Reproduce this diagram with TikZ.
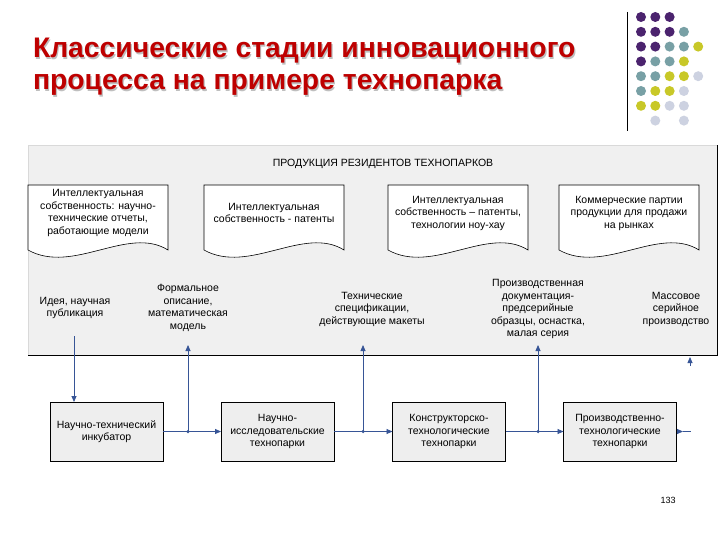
\documentclass[tikz,border=0pt]{standalone}
\usepackage{fontspec}
\setmainfont{Liberation Sans}
\usetikzlibrary{arrows.meta}
\definecolor{titlered}{RGB}{190,0,0}
\definecolor{dotP}{RGB}{75,35,110}
\definecolor{dotT}{RGB}{120,160,165}
\definecolor{dotY}{RGB}{200,200,40}
\definecolor{dotL}{RGB}{205,210,225}
\definecolor{panelgray}{RGB}{240,240,240}
\definecolor{boxgray}{RGB}{238,238,238}
\definecolor{linkblue}{RGB}{55,85,150}
\begin{document}
\begin{tikzpicture}[x=1pt,y=-1pt,
  every node/.style={inner sep=0pt,outer sep=0pt},
  small/.style={font=\fontsize{10.5}{12.5}\selectfont, align=center},
  titletext/.style={anchor=base west, font=\fontsize{28.3}{32}\selectfont\bfseries, text=titlered},
  stagebox/.style={draw=black, fill=boxgray, minimum width=113pt, minimum height=59pt, small, line width=0.8pt},
  link/.style={draw=linkblue, line width=0.8pt},
  tip/.style={-{Triangle[length=6pt,width=5pt]}},
  jdot/.style={fill=linkblue, circle, minimum size=3.5pt},
  dot/.style={circle, minimum size=10pt}
]
\path[use as bounding box] (0,0) rectangle (720,540);
\fill[white] (0,0) rectangle (720,540);

% title
\node[titletext, text=black!25] at (34.2,59.2) {Классические стадии инновационного};
\node[titletext, text=black!25] at (34.2,91.2) {процесса на примере технопарка};
\node[titletext] (title1) at (33,58) {Классические стадии инновационного};
\node[titletext] (title2) at (33,90) {процесса на примере технопарка};

% decoration
\draw[black, line width=1pt] (627,12) -- (627,131);
\foreach \c/\r/\col in {0/0/dotP,1/0/dotP,2/0/dotP,
  0/1/dotP,1/1/dotP,2/1/dotP,3/1/dotT,
  0/2/dotP,1/2/dotP,2/2/dotT,3/2/dotT,4/2/dotY,
  0/3/dotP,1/3/dotT,2/3/dotT,3/3/dotY,
  0/4/dotT,1/4/dotT,2/4/dotY,3/4/dotY,4/4/dotL,
  0/5/dotT,1/5/dotY,2/5/dotY,3/5/dotL,
  0/6/dotY,1/6/dotY,2/6/dotL,3/6/dotL,
  1/7/dotL,3/7/dotL}
  \node[dot, fill=\col] (d\c\r) at (641+14.3*\c, 17+14.8*\r) {};

% panel
\fill[panelgray] (28,145) rectangle (717,355);
\draw[black!15] (28,355) -- (28,145) -- (717,145);
\draw[black, line width=0.8pt] (28,355) -- (717,355) -- (717,145);
\node[small] (hdr) at (383,164) {ПРОДУКЦИЯ РЕЗИДЕНТОВ ТЕХНОПАРКОВ};

% documents
\foreach \xa/\nm/\txt in {
  28/doc1/{Интеллектуальная\\собственность: научно-\\технические отчеты,\\работающие модели},
  204/doc2/{Интеллектуальная\\собственность - патенты},
  388/doc3/{Интеллектуальная\\собственность -- патенты,\\технологии ноу-хау},
  559/doc4/{Коммерческие партии\\продукции для продажи\\на рынках}}{
  \draw[fill=white, line width=0.6pt] (\xa,185) -- (\xa+140,185) -- (\xa+140,250)
    .. controls (\xa+100,225) and (\xa+45,275) .. (\xa,250) -- cycle;
  \node[small] (\nm) at (\xa+70,213) {\txt};
}

% stage labels
\node[small] (lab1) at (75,308) {Идея, научная\\публикация};
\node[small] (lab2) at (188,308) {Формальное\\описание,\\математическая\\модель};
\node[small] (lab3) at (372,309) {Технические\\спецификации,\\действующие макеты};
\node[small] (lab4) at (538,309) {Производственная\\документация-\\предсерийные\\образцы, оснастка,\\малая серия};
\node[small] (lab5) at (676,309) {Массовое\\серийное\\производство};

% stage boxes
\node[stagebox] (b1) at (106.5,431.5) {Научно-технический\\инкубатор};
\node[stagebox] (b2) at (277.5,431.5) {Научно-\\исследовательские\\технопарки};
\node[stagebox] (b3) at (449,431.5) {Конструкторско-\\технологические\\технопарки};
\node[stagebox] (b4) at (620,431.5) {Производственно-\\технологические\\технопарки};

% connectors
\coordinate (s1) at (74,336);
\draw[link, tip] (s1) -- (s1 |- b1.north);

\coordinate (j1) at (188,431.5);
\coordinate (j2) at (363,431.5);
\coordinate (j3) at (538,431.5);
\coordinate (t1) at (188,345);
\coordinate (t2) at (363,345);
\coordinate (t3) at (538,345);

\draw[link, tip] (b1.east) -- (b2.west);
\draw[link, tip] (b2.east) -- (b3.west);
\draw[link, tip] (b3.east) -- (b4.west);
\draw[link, tip] (j1) -- (t1);
\draw[link, tip] (j2) -- (t2);
\draw[link, tip] (j3) -- (t3);
\node[jdot] (jd1) at (j1) {};
\node[jdot] (jd2) at (j2) {};
\node[jdot] (jd3) at (j3) {};

\coordinate (e1) at (683,431.5);
\coordinate (e2) at (691,431.5);
\draw[link, tip] (b4.east) -- (e1);
\draw[link] (e1) -- (e2);
\coordinate (m1) at (690,366);
\coordinate (m2) at (690,357);
\draw[link, tip] (m1) -- (m2);

\node[font=\fontsize{9}{10}\selectfont] (pg) at (668,500) {133};
\end{tikzpicture}
\end{document}
